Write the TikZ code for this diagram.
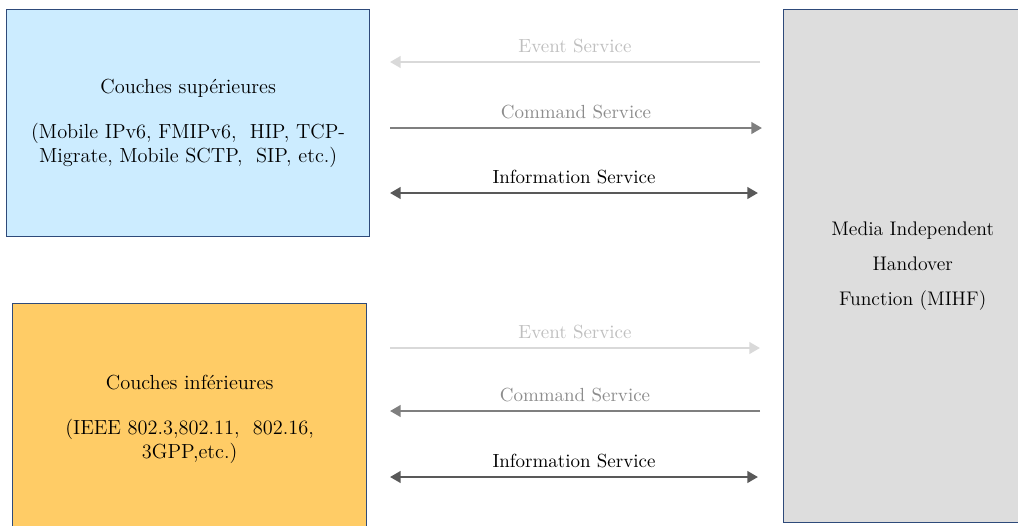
\documentclass[tikz,border=0pt]{standalone}
\usepackage{xcolor}
\usepackage{tikz}
\usetikzlibrary{arrows.meta, positioning, calc}

\definecolor{upperblue}{HTML}{CCECFF}
\definecolor{lowerorange}{HTML}{FFCC66}
\definecolor{mihfgray}{HTML}{DDDDDD}
\definecolor{boxedge}{HTML}{2E4A7A}
\definecolor{evgray}{HTML}{D9D9D9}
\definecolor{evtext}{HTML}{BFBFBF}
\definecolor{cmdgray}{HTML}{7F7F7F}
\definecolor{cmdtext}{HTML}{8C8C8C}
\definecolor{infogray}{HTML}{595959}

\tikzset{
  layerbox/.style={draw=boxedge, line width=0.8pt, anchor=north west, align=center,
    inner sep=0pt, font=\fontsize{11.6}{13.6}\selectfont},
  servarrow/.style={line width=1.4pt, >={Triangle[length=6pt, width=6.5pt]}},
  servlabel/.style={above=1pt, font=\fontsize{10.8}{12}\selectfont},
}

\begin{document}
\begin{tikzpicture}[x=0.02cm, y=-0.02cm]
  \useasboundingbox (0,0) rectangle (1018,525);

  % Layer boxes
  \node[layerbox, fill=upperblue, minimum width=7.26cm, minimum height=4.54cm] (upper) at (6,9)
    {Couches supérieures\\[12pt](Mobile IPv6, FMIPv6,\ \ HIP, TCP-\\Migrate, Mobile SCTP,\ \ SIP, etc.)};
  \node[layerbox, fill=lowerorange, minimum width=7.08cm, minimum height=4.64cm] (lower) at (12,303)
    {Couches inférieures\\[12pt](IEEE 802.3,802.11,\ \ 802.16,\\3GPP,etc.)};
  \node[layerbox, fill=mihfgray, minimum width=5.16cm, minimum height=10.26cm,
    font=\fontsize{11.2}{20}\selectfont] (mihf) at (783,9)
    {Media Independent\\Handover\\Function (MIHF)};

  % Arrow ends
  \coordinate (evUL) at (390,62);  \coordinate (evUR) at (760,62);
  \coordinate (cmUL) at (390,128); \coordinate (cmUR) at (762,128);
  \coordinate (inUL) at (390,193); \coordinate (inUR) at (758,193);
  \coordinate (evLL) at (390,348); \coordinate (evLR) at (760,348);
  \coordinate (cmLL) at (390,411); \coordinate (cmLR) at (760,411);
  \coordinate (inLL) at (390,477); \coordinate (inLR) at (758,477);

  % Upper services
  \draw[servarrow, evgray, ->] (evUR) -- node[servlabel, text=evtext] (evUlbl) {Event Service} (evUL);
  \draw[servarrow, cmdgray, ->] (cmUL) -- node[servlabel, text=cmdtext] (cmUlbl) {Command Service} (cmUR);
  \draw[servarrow, infogray, <->] (inUL) -- node[servlabel, text=black] (inUlbl) {Information Service} (inUR);

  % Lower services
  \draw[servarrow, evgray, ->] (evLL) -- node[servlabel, text=evtext] (evLlbl) {Event Service} (evLR);
  \draw[servarrow, cmdgray, ->] (cmLR) -- node[servlabel, text=cmdtext] (cmLlbl) {Command Service} (cmLL);
  \draw[servarrow, infogray, <->] (inLL) -- node[servlabel, text=black] (inLlbl) {Information Service} (inLR);
\end{tikzpicture}
\end{document}
